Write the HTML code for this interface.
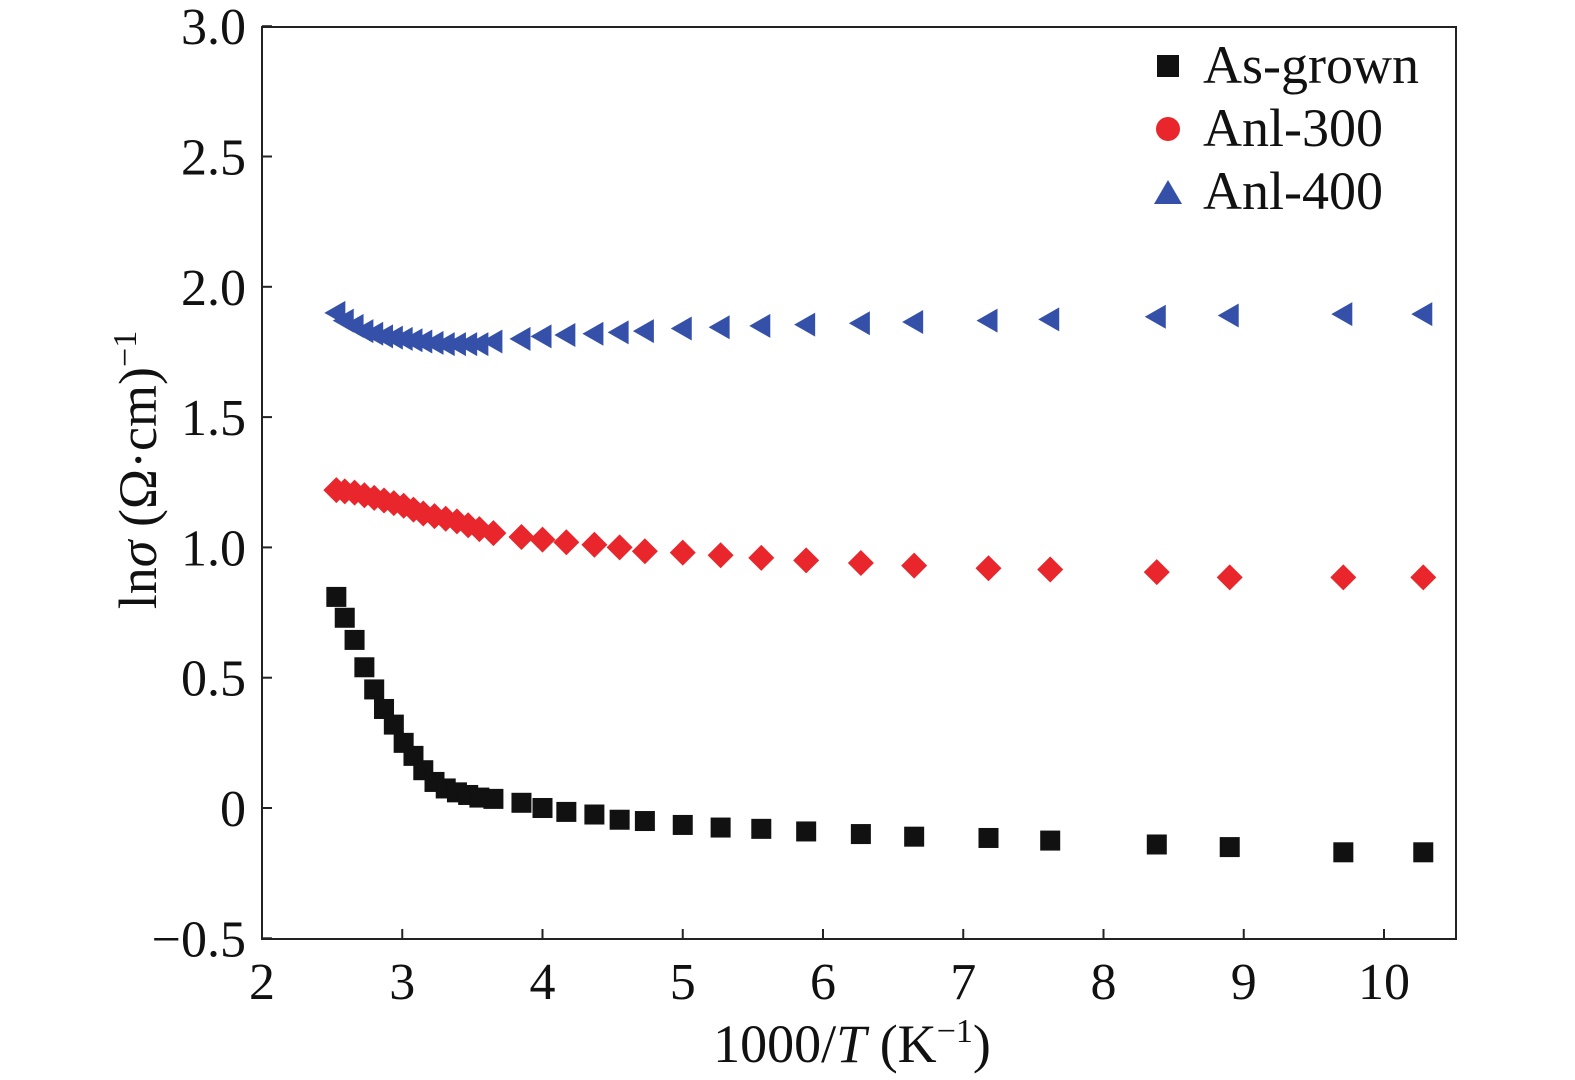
<!DOCTYPE html>
<html><head><meta charset="utf-8"><style>body{margin:0;background:#fff}svg{display:block}text{font-family:"Liberation Serif",serif;fill:#111}</style></head>
<body>
<svg id="chart" width="1575" height="1080" xmlns="http://www.w3.org/2000/svg">
<g id="axes"></g>
<g id="marks"></g>
<g>
<rect x="1157" y="55" width="22" height="22" fill="#111"/>
<text x="1203" y="83" font-size="54">As-grown</text>
<circle cx="1168" cy="129" r="12" fill="#e8262b"/>
<text x="1203" y="146" font-size="54">Anl-300</text>
<polygon points="1154,204 1182,204 1168,180" fill="#3550a8"/>
<text x="1203" y="209" font-size="54">Anl-400</text>
</g>
<text transform="translate(156,470) rotate(-90)" text-anchor="middle" font-size="54">ln<tspan font-style="italic">σ</tspan> (Ω·cm)<tspan dy="-20" font-size="34">−1</tspan></text>
<text x="852" y="1062" text-anchor="middle" font-size="54">1000/<tspan font-style="italic">T</tspan> (K<tspan dy="-20" font-size="34">−1</tspan><tspan dy="20">)</tspan></text>
</svg>
<script>
const xs=[2.53,2.59,2.66,2.73,2.80,2.87,2.94,3.01,3.08,3.15,3.23,3.31,3.39,3.47,3.55,3.65,3.85,4.0,4.17,4.37,4.55,4.73,5.0,5.27,5.56,5.88,6.27,6.65,7.18,7.62,8.38,8.9,9.71,10.28];
const asGrown=[0.81,0.73,0.645,0.54,0.455,0.38,0.32,0.25,0.2,0.145,0.10,0.075,0.06,0.05,0.04,0.035,0.02,0.0,-0.015,-0.025,-0.045,-0.05,-0.065,-0.075,-0.08,-0.09,-0.1,-0.11,-0.115,-0.125,-0.14,-0.15,-0.17,-0.17];
const anl300=[1.22,1.215,1.21,1.2,1.19,1.18,1.17,1.16,1.145,1.13,1.12,1.11,1.10,1.085,1.07,1.055,1.04,1.03,1.02,1.01,1.0,0.985,0.98,0.97,0.96,0.95,0.94,0.93,0.92,0.915,0.905,0.885,0.885,0.885];
const anl400=[1.9,1.87,1.85,1.83,1.82,1.81,1.805,1.80,1.795,1.79,1.785,1.78,1.78,1.78,1.78,1.79,1.80,1.81,1.815,1.82,1.825,1.83,1.84,1.845,1.85,1.855,1.86,1.865,1.87,1.875,1.885,1.89,1.895,1.895];
const xTicks=[2,3,4,5,6,7,8,9,10];
const yTicks=[-0.5,0,0.5,1.0,1.5,2.0,2.5,3.0];
const yTickLabels=["−0.5","0","0.5","1.0","1.5","2.0","2.5","3.0"];
const NS="http://www.w3.org/2000/svg";
const X0=262,X1=1456,Y0=939,Y1=27;
function sx(v){return X0+(v-2)*140.25;}
function sy(v){return 808-v*260.6;}
function mk(tag,attrs,parent){const e=document.createElementNS(NS,tag);for(const k in attrs)e.setAttribute(k,attrs[k]);parent.appendChild(e);return e;}
const axes=document.getElementById('axes'),marks=document.getElementById('marks');
const fr=mk('rect',{x:X0,y:Y1,width:X1-X0,height:Y0-Y1,fill:'none',stroke:'#222','stroke-width':2},axes);


xTicks.forEach(t=>{const x=sx(t);
 const l=mk('line',{x1:x,x2:x,y1:Y0,y2:Y0-10,stroke:'#222','stroke-width':2},axes);
 
 
 const tx=mk('text',{x:x,y:Y0+60,'text-anchor':'middle','font-size':52},axes);tx.textContent=t;
 
 
});
yTicks.forEach((t,i)=>{const y=sy(t);
 const l=mk('line',{x1:X0,x2:X0+10,y1:y,y2:y,stroke:'#222','stroke-width':2},axes);
 
 
 const tx=mk('text',{x:X0-16,y:y+18,'text-anchor':'end','font-size':52},axes);tx.textContent=yTickLabels[i];
 
 
});
xs.forEach((x,i)=>{
 const px=sx(x);
 let y=sy(anl400[i]);
 const t=mk('polygon',{points:`${px-12},${y} ${px+9},${y-12} ${px+9},${y+12}`,fill:'#3550a8'},marks);
 
 
 y=sy(anl300[i]);
 const d=mk('polygon',{points:`${px},${y-13} ${px+13},${y} ${px},${y+13} ${px-13},${y}`,fill:'#e8262b'},marks);
 
 
 y=sy(asGrown[i]);
 const s=mk('rect',{x:px-10,y:y-10,width:20,height:20,fill:'#111'},marks);
 
 
});
</script>
</body></html>
